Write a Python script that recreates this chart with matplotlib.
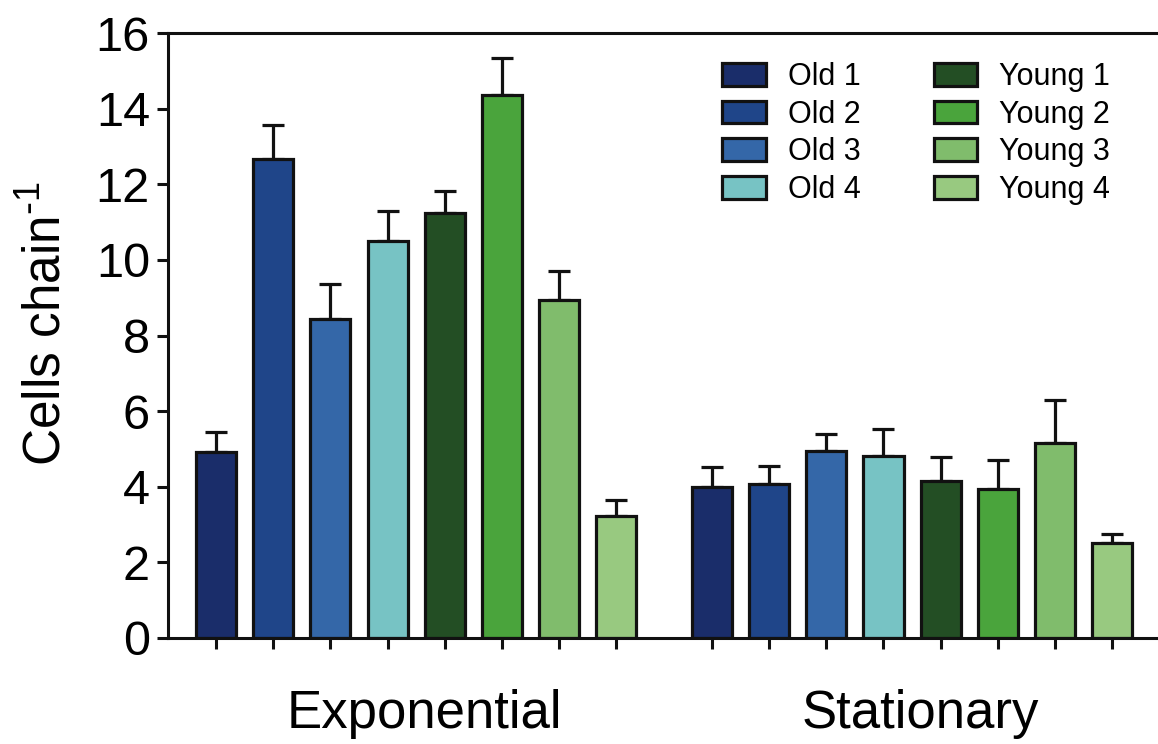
import numpy as np
import matplotlib
matplotlib.use("Agg")
import matplotlib.pyplot as plt
from matplotlib.patches import Patch

plt.rcParams['font.family'] = ['Liberation Sans', 'DejaVu Sans']

# data
groups = ['Exponential', 'Stationary']
strains = ['Old 1', 'Old 2', 'Old 3', 'Old 4', 'Young 1', 'Young 2', 'Young 3', 'Young 4']
colors = ['#1a2d6a', '#1f4589', '#3467a8', '#77c3c4', '#234e24', '#4aa43c', '#80bc6c', '#98c980']

exp_mean = [4.93, 12.68, 8.44, 10.49, 11.25, 14.35, 8.93, 3.23]
exp_err = [0.52, 0.88, 0.91, 0.80, 0.57, 0.99, 0.77, 0.43]
stat_mean = [4.00, 4.07, 4.94, 4.82, 4.16, 3.93, 5.16, 2.52]
stat_err = [0.51, 0.49, 0.45, 0.70, 0.62, 0.78, 1.14, 0.22]

group_gap = 8.67
bar_w = 0.7
edge = '#111111'

fig = plt.figure(figsize=(11.58, 7.44), dpi=100)
ax = fig.add_axes([0.1451, 0.1425, 0.8549, 0.8131])

x_exp = np.arange(len(strains))
x_stat = x_exp + group_gap

for xs, means, errs in [(x_exp, exp_mean, exp_err), (x_stat, stat_mean, stat_err)]:
    ax.bar(xs, means, width=bar_w, color=colors, edgecolor=edge, linewidth=2.3, zorder=2)
    ax.errorbar(xs, means, yerr=[np.zeros(len(errs)), errs], fmt='none', ecolor=edge,
                elinewidth=2.3, capsize=8, capthick=2.3, zorder=1)

ax.set_xlim(-0.84, 16.47)
ax.set_ylim(0, 16)
ax.set_yticks(np.arange(0, 17, 2))
ax.set_xticks(np.concatenate([x_exp, x_stat]))
ax.set_xticklabels([])

ax.spines['right'].set_visible(False)
for side in ['left', 'bottom', 'top']:
    ax.spines[side].set_linewidth(2.2)
    ax.spines[side].set_color(edge)

ax.tick_params(axis='y', length=8, width=2.2, labelsize=35, pad=5, color=edge)
ax.tick_params(axis='x', length=8, width=2.2, color=edge)

# group labels
for xs, name in [(x_exp, groups[0]), (x_stat, groups[1])]:
    ax.text(xs.mean() + 0.15, -0.125, name, transform=ax.get_xaxis_transform(),
            ha='center', va='center', fontsize=38)

ax.set_ylabel('Cells chain$^{\\mathregular{\\text{-}1}}$', fontsize=37)
ax.yaxis.set_label_coords(-0.097, 0.52)

handles = [Patch(facecolor=c, edgecolor=edge, linewidth=2.3, label=s) for c, s in zip(colors, strains)]
ax.legend(handles=handles, ncol=2, fontsize=22, frameon=False,
          handlelength=1.43, handleheight=0.76, handletextpad=0.72,
          columnspacing=2.4, labelspacing=0.25, borderpad=0, borderaxespad=0,
          loc='upper left', bbox_to_anchor=(722 / 1158, 1 - 62 / 744),
          bbox_transform=fig.transFigure)

plt.savefig('out.png', dpi=100)
